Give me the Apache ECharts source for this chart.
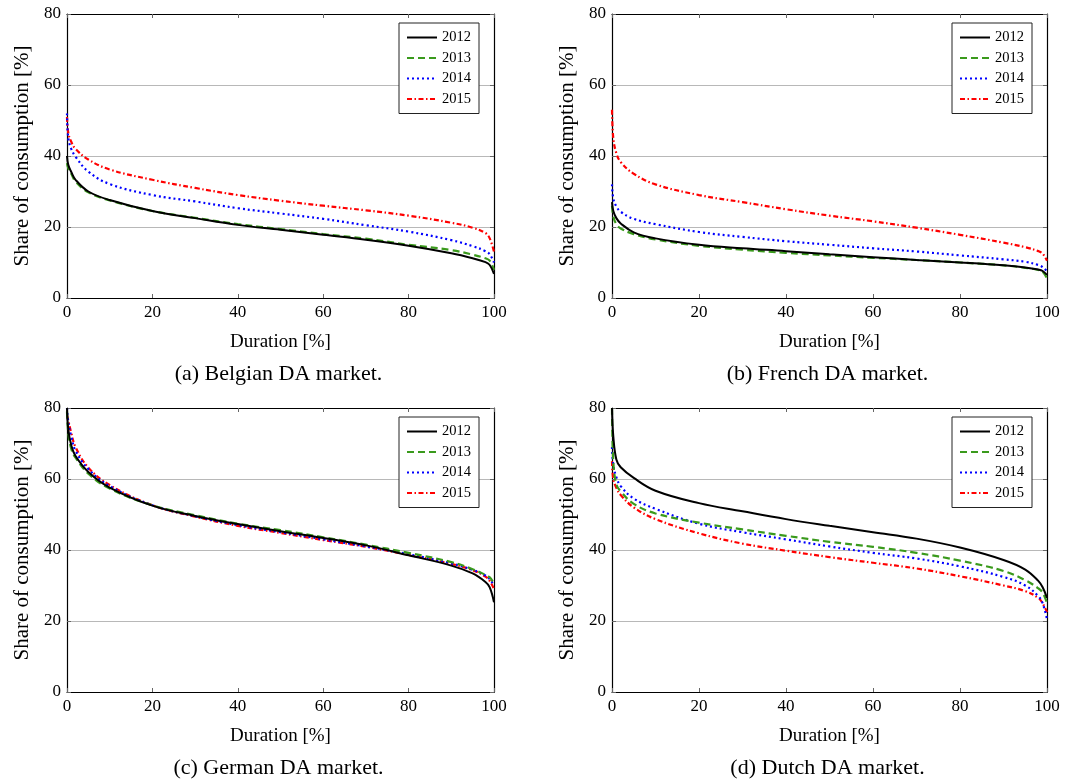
<!DOCTYPE html>
<html>
<head>
<meta charset="utf-8">
<script src="https://cdn.jsdelivr.net/npm/echarts@6/dist/echarts.min.js"></script>
<style>
html,body{margin:0;padding:0;background:#fff;}
#chart{width:1070px;height:782px;}
</style>
</head>
<body>
<div id="chart"></div>
<script>
// Duration [%] sample points (shared by all curves)
const duration = [0, 0.3, 1, 2, 5, 10, 20, 30, 40, 50, 60, 70, 80, 90, 95, 98, 99, 100];
const years = ['2012', '2013', '2014', '2015'];
const xTicks = [0, 20, 40, 60, 80, 100];
const yTicks = [0, 20, 40, 60, 80];

// (a) Belgian DA market
const belgian2012 = [40, 37.5, 35.5, 33.3, 30, 27.6, 24.5, 22.5, 20.6, 19.2, 17.8, 16.4, 14.7, 12.6, 11.2, 10.1, 9.3, 6.8];
const belgian2013 = [38, 36.5, 35, 32.8, 29.8, 27.5, 24.5, 22.6, 20.8, 19.4, 18, 16.7, 15, 13.5, 12.2, 11.2, 10.5, 7.9];
const belgian2014 = [52, 45, 42, 39.8, 35.6, 32.1, 29, 27.2, 25.3, 23.8, 22.3, 20.5, 18.7, 16.3, 14.6, 13.2, 12.3, 10];
const belgian2015 = [51, 46.5, 44, 42, 39, 36.2, 33.3, 31, 29, 27.4, 26, 24.7, 23.2, 21.2, 19.8, 18.3, 16.8, 13];

// (b) French DA market
const french2012 = [27, 24.5, 22.5, 21, 18.5, 16.8, 15, 14, 13.2, 12.3, 11.5, 10.7, 10, 9.2, 8.6, 8, 7.6, 6.5];
const french2013 = [26, 23, 20.8, 19.6, 18, 16.5, 14.7, 13.6, 12.7, 12, 11.3, 10.7, 10, 9.2, 8.5, 7.9, 7.4, 5.5];
const french2014 = [32, 28, 25.8, 24.3, 22.3, 20.8, 18.6, 17.2, 16, 15, 14, 13.1, 12, 10.9, 10.2, 9.3, 8.7, 7.5];
const french2015 = [53, 45, 40.8, 38.3, 35, 32, 29, 27, 25, 23.2, 21.6, 19.8, 17.8, 15.6, 14.3, 13.2, 12.5, 10.5];

// (c) German DA market
const german2012 = [80, 74, 69.5, 66.5, 62, 57.6, 52.5, 49.6, 47.3, 45.3, 43.4, 41.3, 38.5, 35.6, 33.4, 31, 29.5, 25.3];
const german2013 = [79, 73, 68.5, 66, 61.5, 57.3, 52.6, 49.8, 47.4, 45.6, 43.6, 41.5, 39.2, 36.6, 34.6, 33, 32.3, 30.5];
const german2014 = [80, 76, 72, 68, 62.8, 58, 52.6, 49.5, 47, 45, 43, 41, 38.8, 36.2, 34.4, 32.8, 31.8, 30];
const german2015 = [78, 76.5, 73, 69, 63.2, 58.3, 52.6, 49.4, 46.8, 44.8, 42.8, 40.9, 38.6, 36.1, 34.3, 32.5, 31.3, 29];

// (d) Dutch DA market
const dutch2012 = [80, 72, 65.5, 63.3, 60.3, 56.7, 53.2, 50.9, 48.7, 46.8, 45, 43.2, 40.7, 37.2, 34.5, 31.3, 29.5, 26.5];
const dutch2013 = [80, 65, 58.5, 56.5, 53, 50.3, 47.7, 45.8, 44, 42.3, 40.9, 39.2, 37, 34.1, 31.5, 29.2, 28, 25];
const dutch2014 = [69, 64, 60.5, 58, 54.5, 51.6, 47.4, 45, 43, 41, 39.2, 37.6, 35.4, 32.4, 30, 27, 25, 20.5];
const dutch2015 = [65, 60, 57.5, 55.5, 52, 48.7, 44.7, 41.8, 39.8, 38, 36.4, 34.8, 32.6, 30, 28.4, 26.5, 25, 22.5];

const panels = [
  { caption: '(a) Belgian DA market.', data: [belgian2012, belgian2013, belgian2014, belgian2015] },
  { caption: '(b) French DA market.',  data: [french2012, french2013, french2014, french2015] },
  { caption: '(c) German DA market.',  data: [german2012, german2013, german2014, german2015] },
  { caption: '(d) Dutch DA market.',   data: [dutch2012, dutch2013, dutch2014, dutch2015] }
];

const FONT = '"Liberation Serif", "DejaVu Serif", serif';
const layout = [
  { left: 67,  top: 14,  width: 427, height: 284, legL: 399, legT: 23 },
  { left: 612, top: 14,  width: 435, height: 284, legL: 952, legT: 23 },
  { left: 67,  top: 408, width: 427, height: 284, legL: 399, legT: 417 },
  { left: 612, top: 408, width: 435, height: 284, legL: 952, legT: 417 }
];
const styles = [
  { color: '#000000', type: 'solid', width: 2 },
  { color: '#3a9a1c', type: [7, 4], width: 2.2 },
  { color: '#0000ff', type: [2, 3], width: 2.2 },
  { color: '#ff0000', type: [5, 2.5, 1.5, 2.5], width: 2.2 }
];

const grid = [], xAxis = [], yAxis = [], series = [], legend = [], graphic = [];
const tickLine = { show: true, inside: true, length: 4, lineStyle: { color: '#666', width: 1 } };
const axLine = { show: true, onZero: false, lineStyle: { color: '#000', width: 1.2 } };

layout.forEach((g, i) => {
  grid.push({ left: g.left, top: g.top, width: g.width, height: g.height, containLabel: false });
  xAxis.push({
    gridIndex: i, type: 'value', min: xTicks[0], max: xTicks[xTicks.length - 1], interval: 20,
    axisLine: axLine, axisTick: tickLine, splitLine: { show: false },
    axisLabel: { color: '#000', fontSize: 17, fontFamily: FONT, margin: 6 },
    name: 'Duration [%]', nameLocation: 'middle', nameGap: 35,
    nameTextStyle: { color: '#000', fontSize: 19, fontFamily: FONT }
  });
  xAxis.push({
    gridIndex: i, type: 'value', position: 'top', min: xTicks[0], max: xTicks[xTicks.length - 1], interval: 20,
    axisLine: axLine, axisTick: tickLine, splitLine: { show: false }, axisLabel: { show: false }
  });
  yAxis.push({
    gridIndex: i, type: 'value', min: yTicks[0], max: yTicks[yTicks.length - 1], interval: 20,
    axisLine: axLine, axisTick: tickLine,
    splitLine: { show: true, lineStyle: { color: '#b8b8b8', width: 1 } },
    axisLabel: { color: '#000', fontSize: 17, fontFamily: FONT, margin: 6 },
    name: 'Share of consumption [%]', nameLocation: 'middle', nameGap: 34,
    nameTextStyle: { color: '#000', fontSize: 21, fontFamily: FONT }
  });
  yAxis.push({
    gridIndex: i, type: 'value', position: 'right', min: yTicks[0], max: yTicks[yTicks.length - 1], interval: 20,
    axisLine: axLine, axisTick: tickLine, splitLine: { show: false }, axisLabel: { show: false }
  });
  panels[i].data.forEach((arr, k) => {
    series.push({
      name: years[k], type: 'line', xAxisIndex: 2 * i, yAxisIndex: 2 * i,
      data: duration.map((d, j) => [d, arr[j]]),
      symbol: 'none', showSymbol: false, smooth: 0.4,
      lineStyle: { color: styles[k].color, type: styles[k].type, width: styles[k].width },
      itemStyle: { color: styles[k].color },
      z: 10 - k
    });
  });
  legend.push({
    data: years, orient: 'vertical', left: g.legL, top: g.legT,
    itemWidth: 30, itemHeight: 14, itemGap: 5.5,
    padding: [7, 8, 7, 7],
    itemStyle: { opacity: 0, borderWidth: 0 },
    borderColor: '#222', borderWidth: 1, backgroundColor: '#fff',
    textStyle: { color: '#000', fontSize: 14.5, fontFamily: FONT, lineHeight: 14 }
  });
  graphic.push({
    type: 'text', x: g.left + g.width / 2 - 2, y: g.top + g.height + 65,
    style: { text: panels[i].caption, fill: '#000', font: '22px ' + FONT, textAlign: 'center', textVerticalAlign: 'top' }
  });
});

const chart = echarts.init(document.getElementById('chart'), null, { renderer: 'canvas' });
chart.setOption({
  animation: false,
  backgroundColor: '#fff',
  grid, xAxis, yAxis, series, legend, graphic
});
</script>
</body>
</html>
